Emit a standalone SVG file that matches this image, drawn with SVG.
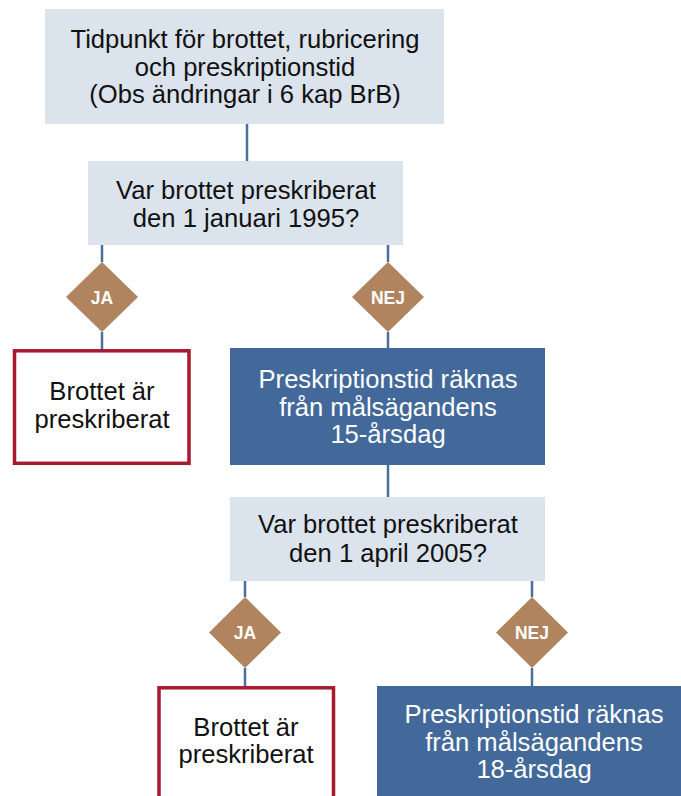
<svg xmlns="http://www.w3.org/2000/svg" width="681" height="796" viewBox="0 0 681 796">
<style>
.q{fill:#DBE3EC}
.res{fill:#42699A}
.no{fill:#FFFFFF;stroke:#A6192E;stroke-width:3.5}
.dia{fill:#B0845F}
.t{font-family:"Liberation Sans",Arial,sans-serif;font-size:25.6px;fill:#111111;text-anchor:middle}
.w{fill:#FFFFFF}
.d{font-family:"Liberation Sans",Arial,sans-serif;font-size:17.5px;font-weight:bold;fill:#FFFFFF;text-anchor:middle}
.c line{stroke:#4A6F9B;stroke-width:2.5}
</style>
<rect width="681" height="796" fill="#FFFFFF"/>
<g class="c" id="connectors">
<line x1="247" y1="124" x2="247" y2="161"/>
<line x1="102" y1="245" x2="102" y2="262"/>
<line x1="102" y1="332" x2="102" y2="349"/>
<line x1="388" y1="245" x2="388" y2="262"/>
<line x1="388" y1="332" x2="388" y2="348"/>
<line x1="388" y1="465" x2="388" y2="497"/>
<line x1="245" y1="581" x2="245" y2="597"/>
<line x1="245" y1="668" x2="245" y2="686"/>
<line x1="532" y1="581" x2="532" y2="597"/>
<line x1="532" y1="668" x2="532" y2="686"/>
</g>
<g id="start">
<rect class="q" x="45" y="9" width="399" height="115"/>
<text class="t" x="245" y="48">Tidpunkt för brottet, rubricering</text>
<text class="t" x="245" y="76">och preskriptionstid</text>
<text class="t" x="245" y="103">(Obs ändringar i 6 kap BrB)</text>
</g>
<g id="q1">
<rect class="q" x="88" y="161" width="315" height="84"/>
<text class="t" x="246" y="199">Var brottet preskriberat</text>
<text class="t" x="246" y="227">den 1 januari 1995?</text>
</g>
<g id="ja1">
<polygon class="dia" points="102,262 138,297 102,332 66,297"/>
<text class="d" x="102" y="303.5">JA</text>
</g>
<g id="nej1">
<polygon class="dia" points="388,262 424,297 388,332 352,297"/>
<text class="d" x="388" y="303.5">NEJ</text>
</g>
<g id="res1">
<rect class="no" x="14.5" y="350.8" width="174.5" height="112.5"/>
<text class="t" x="102" y="400">Brottet är</text>
<text class="t" x="102" y="428">preskriberat</text>
</g>
<g id="calc15">
<rect class="res" x="230" y="348" width="315" height="117"/>
<text class="t w" x="388" y="388">Preskriptionstid räknas</text>
<text class="t w" x="388" y="416">från målsägandens</text>
<text class="t w" x="388" y="443">15-årsdag</text>
</g>
<g id="q2">
<rect class="q" x="230" y="497" width="315" height="84"/>
<text class="t" x="388" y="533">Var brottet preskriberat</text>
<text class="t" x="388" y="562">den 1 april 2005?</text>
</g>
<g id="ja2">
<polygon class="dia" points="245,597 281,632.5 245,668 209,632.5"/>
<text class="d" x="245" y="638.5">JA</text>
</g>
<g id="nej2">
<polygon class="dia" points="532,597 568,632.5 532,668 496,632.5"/>
<text class="d" x="532" y="638.5">NEJ</text>
</g>
<g id="res2">
<rect class="no" x="159" y="687.8" width="174.5" height="125"/>
<text class="t" x="246" y="736">Brottet är</text>
<text class="t" x="246" y="763">preskriberat</text>
</g>
<g id="calc18">
<rect class="res" x="377" y="686" width="315" height="120"/>
<text class="t w" x="534" y="723">Preskriptionstid räknas</text>
<text class="t w" x="534" y="751">från målsägandens</text>
<text class="t w" x="534" y="778">18-årsdag</text>
</g>
</svg>
